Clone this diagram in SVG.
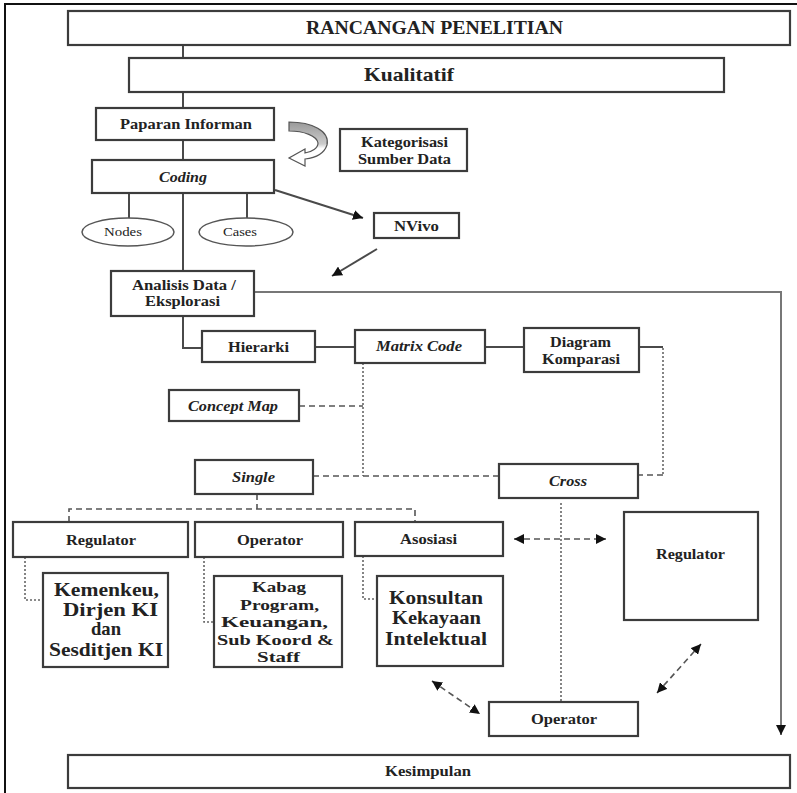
<svg xmlns="http://www.w3.org/2000/svg" width="797" height="793" viewBox="0 0 797 793">
<style>
.box{fill:#fff;stroke:#3c3c3c;stroke-width:2.2}
.t{font-family:"Liberation Serif","Times New Roman",serif;font-weight:bold;font-size:14.5px;fill:#222;text-anchor:middle}
.i{font-style:italic}
.r{font-weight:normal;font-size:13px}
.big{font-size:19px}
.mid{font-size:15.5px}
.ln{stroke:#4a4a4a;stroke-width:2;fill:none}
.gr{stroke:#777;stroke-width:2;fill:none}
.dash{stroke:#555;stroke-width:1.6;stroke-dasharray:6 4;fill:none}
.dot{stroke:#666;stroke-width:1.6;stroke-dasharray:2 2;fill:none}
.ell{fill:#fff;stroke:#555;stroke-width:1.5}
</style>
<defs>
<marker id="ah" viewBox="0 0 10 10" refX="10" refY="5" markerWidth="10" markerHeight="10" markerUnits="userSpaceOnUse" orient="auto-start-reverse">
<path d="M0,0 L10,5 L0,10 Z" fill="#111"/>
</marker>
<linearGradient id="cg" x1="0" y1="0" x2="0" y2="1">
<stop offset="0" stop-color="#999"/>
<stop offset="0.5" stop-color="#ccc"/>
<stop offset="0.6" stop-color="#fff"/>
<stop offset="1" stop-color="#fff"/>
</linearGradient>
</defs>
<rect width="797" height="793" fill="#fff"/>
<path d="M5,793 V4 H797" fill="none" stroke="#111" stroke-width="2"/>

<g id="connectors">
<path class="ln" d="M183,45 V58"/>
<path class="ln" d="M183,92 V108"/>
<path class="ln" d="M183,140 V160"/>
<path class="ln" d="M183,193 V271"/>
<path class="ln" d="M129,193 V218"/>
<path class="ln" d="M247,193 V218"/>
<path class="ln" d="M275,190 L363,218" stroke-width="1.6" marker-end="url(#ah)"/>
<path class="ln" d="M377,249 L332,276" stroke-width="1.6" marker-end="url(#ah)"/>
<path class="gr" d="M254,292 H781 V735" marker-end="url(#ah)"/>
<path class="ln" d="M183,316 V348 H202"/>
<path class="ln" d="M315,347 H355"/>
<path class="ln" d="M485,347 H524"/>
<path class="ln" d="M639,347 H663"/>
<path class="dot" d="M663,348 V475"/>
<path class="dash" d="M663,475 H638"/>
<path class="dot" d="M363,363 V476"/>
<path class="dash" d="M299,406 H363"/>
<path class="dash" d="M313,476 H499"/>
<path class="dash" d="M257,494 V509"/>
<path class="dash" d="M69,522 V509 H415 V522"/>
<path class="dot" d="M25,557 V600 H43"/>
<path class="dot" d="M204,557 V622 H214"/>
<path class="dot" d="M363,556 V599 H377"/>
<path class="dot" d="M561,503 V702"/>
<path class="dash" d="M514,539 H606" stroke-dasharray="4 3" marker-start="url(#ah)" marker-end="url(#ah)"/>
<path class="dash" d="M432,681 L480,714" stroke-dasharray="4 3" marker-start="url(#ah)" marker-end="url(#ah)"/>
<path class="dash" d="M657,693 L701,644" stroke-dasharray="4 3" marker-start="url(#ah)" marker-end="url(#ah)"/>
<path id="curved-arrow" d="M289,122 C312,122 330,131 327,145 C324,154 314,158 305,159 L305,166 L289,158 L305,149 L305,153 C312,152 318,148 318,143 C317,136 304,131 289,131 Z" fill="url(#cg)" stroke="#555" stroke-width="1.2"/>
</g>

<g id="rancangan"><rect class="box" x="68" y="11" width="722" height="34"/><text class="t" x="434.5" y="34" style="font-size:18px" textLength="257" lengthAdjust="spacingAndGlyphs">RANCANGAN PENELITIAN</text></g>
<g id="kualitatif"><rect class="box" x="129" y="58" width="595" height="34"/><text class="t" x="409" y="81" style="font-size:19px" textLength="90" lengthAdjust="spacingAndGlyphs">Kualitatif</text></g>
<g id="paparan"><rect class="box" x="96" y="108" width="178" height="32"/><text class="t" x="186" y="129" style="font-size:15px" textLength="132" lengthAdjust="spacingAndGlyphs">Paparan Informan</text></g>
<g id="coding"><rect class="box" x="92" y="160" width="182" height="33"/><text class="t i" x="183" y="182" style="font-size:15px" textLength="48" lengthAdjust="spacingAndGlyphs">Coding</text></g>
<g id="kategorisasi"><rect class="box" x="340" y="129" width="127" height="42"/><text class="t" x="404.5" y="147" textLength="87" lengthAdjust="spacingAndGlyphs">Kategorisasi</text><text class="t" x="404.5" y="164" textLength="93" lengthAdjust="spacingAndGlyphs">Sumber Data</text></g>
<g id="nvivo"><rect class="box" x="374" y="213" width="85" height="25"/><text class="t" x="416.5" y="231" textLength="45" lengthAdjust="spacingAndGlyphs">NVivo</text></g>
<g id="nodes"><ellipse class="ell" cx="128" cy="232" rx="46" ry="14"/><text class="t r" x="123" y="236" textLength="38" lengthAdjust="spacingAndGlyphs">Nodes</text></g>
<g id="cases"><ellipse class="ell" cx="246" cy="232" rx="47" ry="14"/><text class="t r" x="240" y="236" textLength="34" lengthAdjust="spacingAndGlyphs">Cases</text></g>
<g id="analisis"><rect class="box" x="111" y="271" width="143" height="45"/><text class="t" x="184" y="290" textLength="104" lengthAdjust="spacingAndGlyphs">Analisis Data /</text><text class="t" x="182.5" y="306" textLength="75" lengthAdjust="spacingAndGlyphs">Eksplorasi</text></g>
<g id="hierarki"><rect class="box" x="202" y="331" width="113" height="31"/><text class="t" x="258.5" y="352" textLength="61" lengthAdjust="spacingAndGlyphs">Hierarki</text></g>
<g id="matrix"><rect class="box" x="355" y="330" width="130" height="33"/><text class="t i" x="419" y="351" textLength="86" lengthAdjust="spacingAndGlyphs">Matrix Code</text></g>
<g id="diagram"><rect class="box" x="524" y="328" width="115" height="44"/><text class="t" x="580.5" y="347" textLength="61" lengthAdjust="spacingAndGlyphs">Diagram</text><text class="t" x="581" y="364" textLength="78" lengthAdjust="spacingAndGlyphs">Komparasi</text></g>
<g id="concept"><rect class="box" x="169" y="390" width="130" height="31"/><text class="t i" x="233" y="411" textLength="90" lengthAdjust="spacingAndGlyphs">Concept Map</text></g>
<g id="single"><rect class="box" x="195" y="460" width="118" height="34"/><text class="t i" x="253.5" y="482" textLength="43" lengthAdjust="spacingAndGlyphs">Single</text></g>
<g id="cross"><rect class="box" x="499" y="464" width="139" height="34"/><text class="t i" x="568" y="486" textLength="38" lengthAdjust="spacingAndGlyphs">Cross</text></g>
<g id="regulator1"><rect class="box" x="13" y="522" width="175" height="35"/><text class="t" x="101" y="545" textLength="70" lengthAdjust="spacingAndGlyphs">Regulator</text></g>
<g id="operator1"><rect class="box" x="195" y="522" width="148" height="35"/><text class="t" x="270" y="545" textLength="66" lengthAdjust="spacingAndGlyphs">Operator</text></g>
<g id="asosiasi"><rect class="box" x="355" y="522" width="148" height="34"/><text class="t" x="428.5" y="544" textLength="57" lengthAdjust="spacingAndGlyphs">Asosiasi</text></g>
<g id="kemenkeu"><rect class="box" x="43" y="573" width="125" height="94"/>
<text class="t big" x="106.5" y="596" textLength="105" lengthAdjust="spacingAndGlyphs">Kemenkeu,</text>
<text class="t big" x="110.5" y="616" textLength="95" lengthAdjust="spacingAndGlyphs">Dirjen KI</text>
<text class="t big" x="106" y="635" textLength="30" lengthAdjust="spacingAndGlyphs">dan</text>
<text class="t big" x="106" y="656" textLength="114" lengthAdjust="spacingAndGlyphs">Sesditjen KI</text></g>
<g id="kabag"><rect class="box" x="214" y="576" width="128" height="91"/>
<text class="t mid" x="279" y="592" textLength="54" lengthAdjust="spacingAndGlyphs">Kabag</text>
<text class="t mid" x="279.5" y="609.5" textLength="79" lengthAdjust="spacingAndGlyphs">Program,</text>
<text class="t mid" x="274.5" y="627" textLength="107" lengthAdjust="spacingAndGlyphs">Keuangan,</text>
<text class="t mid" x="275.5" y="644.5" textLength="117" lengthAdjust="spacingAndGlyphs">Sub Koord &amp;</text>
<text class="t mid" x="278.5" y="662" textLength="43" lengthAdjust="spacingAndGlyphs">Staff</text></g>
<g id="konsultan"><rect class="box" x="377" y="576" width="126" height="90"/>
<text class="t big" x="436" y="604" textLength="94" lengthAdjust="spacingAndGlyphs">Konsultan</text>
<text class="t big" x="436.5" y="624" textLength="89" lengthAdjust="spacingAndGlyphs">Kekayaan</text>
<text class="t big" x="436" y="645" textLength="102" lengthAdjust="spacingAndGlyphs">Intelektual</text></g>
<g id="regulator2"><rect class="box" x="624" y="512" width="134" height="108"/><text class="t" x="690.5" y="559" textLength="69" lengthAdjust="spacingAndGlyphs">Regulator</text></g>
<g id="operator2"><rect class="box" x="489" y="702" width="149" height="34"/><text class="t" x="564" y="724" textLength="66" lengthAdjust="spacingAndGlyphs">Operator</text></g>
<g id="kesimpulan"><rect class="box" x="68" y="755" width="722" height="33"/><text class="t" x="428" y="776" textLength="86" lengthAdjust="spacingAndGlyphs">Kesimpulan</text></g>
</svg>
